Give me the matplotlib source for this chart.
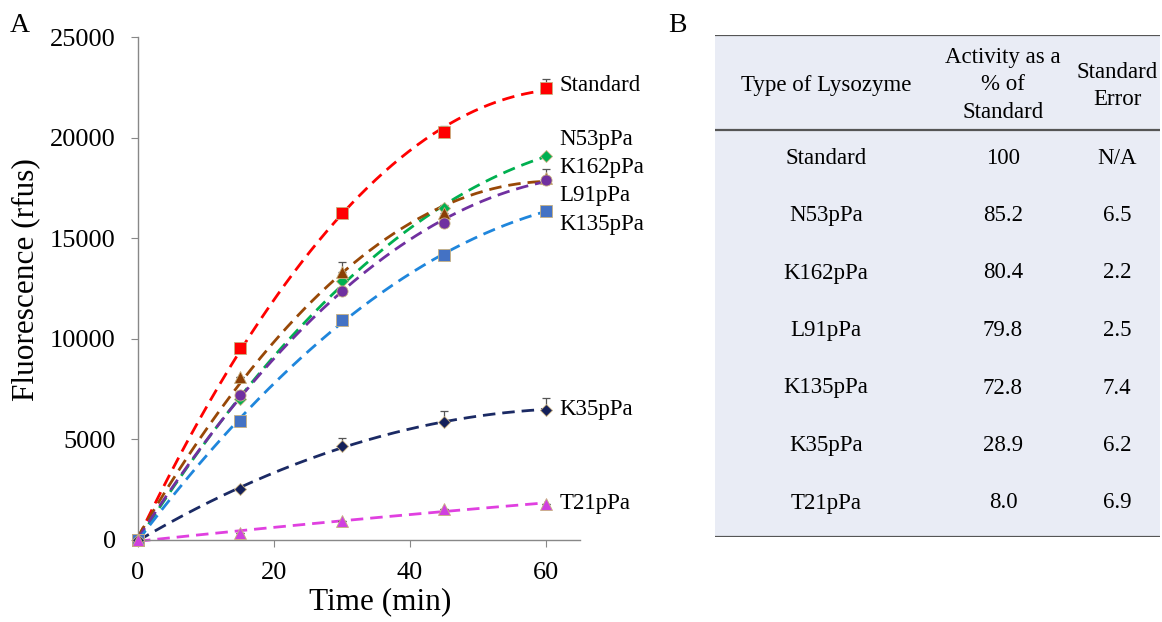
import numpy as np
import matplotlib
matplotlib.use("Agg")
import matplotlib.pyplot as plt

plt.rcParams['font.family'] = ['Liberation Serif', 'DejaVu Serif']

# ---------------- data ----------------
time_min = [0, 15, 30, 45, 60]
series_names = ["Standard", "N53pPa", "K162pPa", "L91pPa", "K135pPa", "K35pPa", "T21pPa"]
standard = [0, 9550, 16250, 20300, 22450]
n53 = [0, 7000, 12850, 16500, 19100]
k162 = [0, 8100, 13300, 16250, 18000]
l91 = [0, 7200, 12400, 15750, 17900]
k135 = [0, 5930, 10950, 14150, 16350]
k35 = [0, 2520, 4650, 5880, 6480]
t21 = [0, 340, 960, 1530, 1790]
err_standard = [0, 0, 0, 300, 450]
err_n53 = [0, 0, 200, 150, 0]
err_k162 = [0, 0, 500, 300, 450]
err_l91 = [0, 0, 0, 0, 0]
err_k135 = [0, 0, 0, 0, 0]
err_k35 = [0, 0, 400, 550, 600]
err_t21 = [0, 0, 0, 0, 0]

table_types = ["Standard", "N53pPa", "K162pPa", "L91pPa", "K135pPa", "K35pPa", "T21pPa"]
table_activity = ["100", "85.2", "80.4", "79.8", "72.8", "28.9", "8.0"]
table_error = ["N/A", "6.5", "2.2", "2.5", "7.4", "6.2", "6.9"]

# ---------------- style ----------------
values = [standard, n53, k162, l91, k135, k35, t21]
errors = [err_standard, err_n53, err_k162, err_l91, err_k135, err_k35, err_t21]
line_colors = ["#FF0000", "#00B050", "#984807", "#7030A0", "#1F86DC", "#1B2A64", "#E040E0"]
marker_colors = ["#FF0000", "#00B050", "#8B3F05", "#7030A0", "#4472C4", "#14205A", "#D040E0"]
markers = ["s", "D", "^", "o", "s", "D", "^"]
msizes = [8, 6, 8.5, 8, 8, 6, 8]
label_y = [22600, 19900, 18500, 17100, 15700, 6480, 1790]

W, H = 1162, 622
fig = plt.figure(figsize=(W / 100, H / 100), dpi=100)

ax = fig.add_axes([138 / W, (H - 540) / H, (580 - 138) / W, (540 - 37) / H])
xfit = np.linspace(0, 60, 200)
for i, name in enumerate(series_names):
    y = np.array(values[i], dtype=float)
    coef = np.polyfit(time_min, y, 2)
    ax.plot(xfit, np.polyval(coef, xfit), ls=(0, (4.5, 2.5)), color=line_colors[i], lw=2.0,
            zorder=2, clip_on=False)
    e = np.array(errors[i], dtype=float)
    ax.errorbar(time_min, y, yerr=[np.zeros_like(e), e], fmt='none', ecolor="#555555",
                elinewidth=0.9, capsize=3, capthick=0.9, zorder=3, clip_on=False)
    ax.plot(time_min, y, ls='none', marker=markers[i], ms=msizes[i], mfc=marker_colors[i],
            mec="#C8B080", mew=0.6, zorder=4, clip_on=False)
    ax.text(62, label_y[i], name, fontsize=16.5, va='center', ha='left')

ax.set_xlim(0, 65)
ax.set_ylim(0, 25000)
ax.set_xticks([0, 20, 40, 60])
ax.set_yticks(range(0, 25001, 5000))
for s in ["top", "right"]:
    ax.spines[s].set_visible(False)
for s in ["left", "bottom"]:
    ax.spines[s].set_color("#888888")
    ax.spines[s].set_linewidth(1.0)
ax.tick_params(axis='both', direction='out', length=5, color="#888888", labelsize=19)
ax.tick_params(axis='y', pad=11)
ax.tick_params(axis='x', pad=11)
ax.set_xlabel("Time (min)", fontsize=22.5)
ax.set_ylabel("Fluorescence (rfus)", fontsize=22.5)
ax.xaxis.set_label_coords(0.547, -0.093)
ax.yaxis.set_label_coords(-0.222, 0.517)

fig.text(10 / W, 1 - 25 / H, "A", fontsize=20, va='center', ha='left')
fig.text(668 / W, 1 - 25 / H, "B", fontsize=20, va='center', ha='left')

# ---------------- table ----------------
tx0, tx1, ty0, ty1 = 715, 1160, 35, 537
tax = fig.add_axes([tx0 / W, (H - ty1) / H, (tx1 - tx0) / W, (ty1 - ty0) / H])
tax.set_xlim(tx0, tx1)
tax.set_ylim(ty1, ty0)
tax.axis('off')
tax.add_patch(plt.Rectangle((tx0, ty0), tx1 - tx0, ty1 - ty0, facecolor="#E9ECF5", edgecolor='none', zorder=0))
for yy in [ty0, 130, ty1]:
    tax.plot([tx0, tx1], [yy, yy], color="#555555", lw=1.6, zorder=1, solid_capstyle='butt')

col_x = [826, 1003, 1117]
fs = 16.5
tax.text(col_x[0], 85, "Type of Lysozyme", fontsize=fs, ha='center', va='center')
tax.text(col_x[1], 85, "Activity as a\n% of\nStandard", fontsize=fs, ha='center', va='center', linespacing=1.42)
tax.text(col_x[2], 86, "Standard\nError", fontsize=fs, ha='center', va='center', linespacing=1.42)
row_y0, row_dy = 158, 57.5
for r in range(len(table_types)):
    yy = row_y0 + r * row_dy
    tax.text(col_x[0], yy, table_types[r], fontsize=fs, ha='center', va='center')
    tax.text(col_x[1], yy, table_activity[r], fontsize=fs, ha='center', va='center')
    tax.text(col_x[2], yy, table_error[r], fontsize=fs, ha='center', va='center')

fig.savefig("out.png", dpi=100)
